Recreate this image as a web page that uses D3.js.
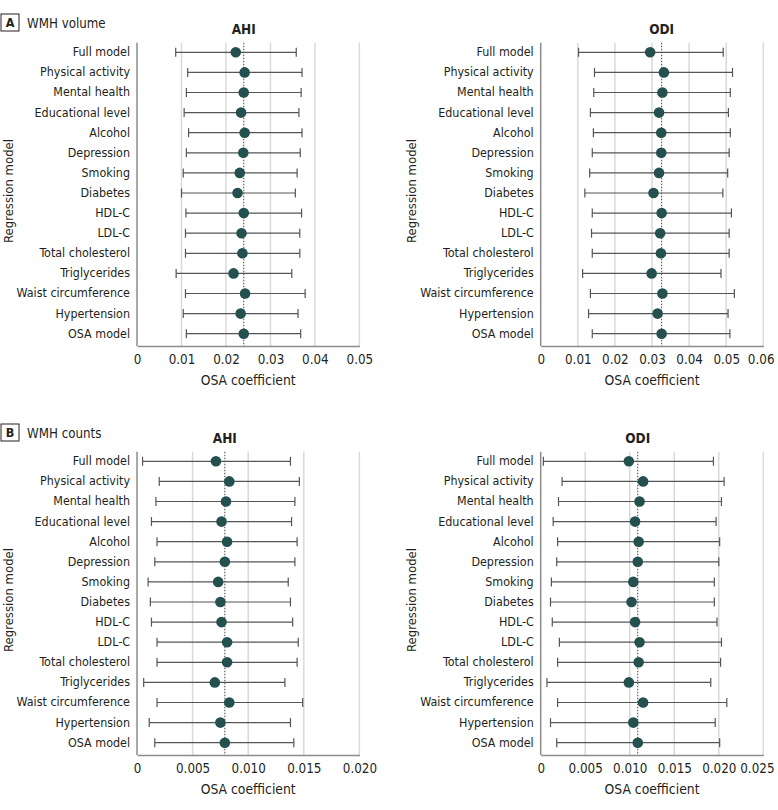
<!DOCTYPE html>
<html><head><meta charset="utf-8">
<script src="https://cdn.jsdelivr.net/npm/d3@7"></script>
<style>
body{margin:0;background:#fff;}
svg text{font-family:"DejaVu Sans Condensed","DejaVu Sans",sans-serif;fill:#231f20;}
</style></head><body>
<svg id="c" width="778" height="810"></svg>
<script>
const categories = ["Full model","Physical activity","Mental health","Educational level","Alcohol","Depression","Smoking","Diabetes","HDL-C","LDL-C","Total cholesterol","Triglycerides","Waist circumference","Hypertension","OSA model"];

// Panel A – WMH volume, AHI
const aAhiEst = [0.0222,0.0242,0.0240,0.0234,0.0242,0.0239,0.0231,0.0226,0.0240,0.0235,0.0237,0.0217,0.0243,0.0233,0.0240];
const aAhiLo  = [0.0087,0.0114,0.0111,0.0106,0.0116,0.0111,0.0104,0.0100,0.0110,0.0109,0.0109,0.0088,0.0109,0.0104,0.0111];
const aAhiHi  = [0.0358,0.0371,0.0369,0.0364,0.0371,0.0367,0.0360,0.0356,0.0370,0.0366,0.0366,0.0348,0.0378,0.0362,0.0368];
// Panel A – WMH volume, ODI
const aOdiEst = [0.0295,0.0332,0.0328,0.0319,0.0325,0.0325,0.0319,0.0304,0.0326,0.0322,0.0324,0.0299,0.0328,0.0315,0.0326];
const aOdiLo  = [0.0102,0.0145,0.0143,0.0134,0.0142,0.0139,0.0132,0.0119,0.0139,0.0137,0.0139,0.0113,0.0134,0.0129,0.0139];
const aOdiHi  = [0.0492,0.0517,0.0511,0.0506,0.0511,0.0508,0.0504,0.0491,0.0514,0.0508,0.0508,0.0486,0.0522,0.0505,0.0510];
// Panel B – WMH counts, AHI
const bAhiEst = [0.0071,0.0083,0.0080,0.0076,0.0081,0.0079,0.0073,0.0075,0.0076,0.0081,0.0081,0.0070,0.0083,0.0075,0.0079];
const bAhiLo  = [0.0005,0.0020,0.0017,0.0013,0.0018,0.0016,0.0010,0.0012,0.0013,0.0018,0.0018,0.0006,0.0018,0.0011,0.0016];
const bAhiHi  = [0.0138,0.0146,0.0142,0.0139,0.0144,0.0142,0.0136,0.0138,0.0140,0.0145,0.0144,0.0133,0.0149,0.0138,0.0141];
// Panel B – WMH counts, ODI
const bOdiEst = [0.0099,0.0115,0.0111,0.0106,0.0110,0.0109,0.0104,0.0102,0.0106,0.0111,0.0110,0.0099,0.0115,0.0104,0.0109];
const bOdiLo  = [0.0003,0.0024,0.0020,0.0014,0.0019,0.0018,0.0012,0.0011,0.0013,0.0021,0.0019,0.0007,0.0019,0.0011,0.0018];
const bOdiHi  = [0.0194,0.0206,0.0203,0.0197,0.0201,0.0200,0.0195,0.0195,0.0198,0.0203,0.0202,0.0191,0.0209,0.0196,0.0201];

const ticksA_AHI = [0,0.01,0.02,0.03,0.04,0.05];
const ticksA_ODI = [0,0.01,0.02,0.03,0.04,0.05,0.06];
const ticksB_AHI = [0,0.005,0.010,0.015,0.020];
const ticksB_ODI = [0,0.005,0.010,0.015,0.020,0.025];
const labelsA_AHI = ["0","0.01","0.02","0.03","0.04","0.05"];
const labelsA_ODI = ["0","0.01","0.02","0.03","0.04","0.05","0.06"];
const labelsB_AHI = ["0","0.005","0.010","0.015","0.020"];
const labelsB_ODI = ["0","0.005","0.010","0.015","0.020","0.025"];

const svg = d3.select("#c");
const DOT = "#24504f", BAR = "#555555", GRID = "#d9d9d9", AXIS = "#8c8c8c";
const RIGHT_LIMIT = 774;

function panel(o){
  const g = svg.append("g");
  const x = d3.scaleLinear().domain([0, o.ticks[o.ticks.length-1]]).range([o.x0, o.x1]);
  const y = d3.scaleBand().domain(categories).range([o.top, o.top + 20.1*15]).paddingInner(0).paddingOuter(0);
  const cy = c => y(c) + y.bandwidth()/2;
  const plotTop = o.top + 0.5, plotBot = o.top + 20.1*15 + 2.3;
  g.selectAll(".grid").data(o.ticks.slice(1)).join("line")
    .attr("x1", d=>x(d)).attr("x2", d=>x(d)).attr("y1", plotTop).attr("y2", plotBot)
    .attr("stroke", GRID).attr("stroke-width", 1.5);
  const ax = d3.axisBottom(x).tickValues(o.ticks).tickFormat((d,i)=>o.labels[i]).tickSize(0).tickPadding(9);
  const axg = g.append("g").attr("transform", `translate(0,${plotBot})`).call(ax);
  axg.attr("font-family", null);
  axg.select(".domain").attr("stroke", AXIS).attr("stroke-width", 1.5);
  axg.selectAll("text").attr("font-size", 13.3).attr("fill", "#231f20");
  // keep the last tick label inside the canvas
  axg.selectAll(".tick text").each(function(d){
    const w = this.getComputedTextLength();
    const over = x(d) + w/2 - RIGHT_LIMIT;
    if (over > 0) d3.select(this).attr("x", -over);
  });
  const ay = d3.axisLeft(y).tickSize(0).tickPadding(7);
  const ayg = g.append("g").attr("transform", `translate(${o.x0},0)`).call(ay);
  ayg.attr("font-family", null);
  ayg.select(".domain").remove();
  ayg.selectAll("text").attr("font-size", 12.4).attr("fill", "#231f20");
  g.append("line").attr("x1", o.x0).attr("x2", o.x0).attr("y1", plotTop).attr("y2", plotBot)
    .attr("stroke", AXIS).attr("stroke-width", 1.5);
  const ref = o.est[o.est.length-1];
  g.append("line").attr("x1", x(ref)).attr("x2", x(ref)).attr("y1", plotTop).attr("y2", plotBot)
    .attr("stroke", "#444").attr("stroke-width", 1).attr("stroke-dasharray", "1.5,1.5");
  const rows = categories.map((c,i)=>({c, e:o.est[i], lo:o.lo[i], hi:o.hi[i]}));
  const eb = g.selectAll(".eb").data(rows).join("g");
  eb.append("line").attr("x1", d=>x(d.lo)).attr("x2", d=>x(d.hi)).attr("y1", d=>cy(d.c)).attr("y2", d=>cy(d.c))
    .attr("stroke", BAR).attr("stroke-width", 1.2);
  eb.append("line").attr("x1", d=>x(d.lo)).attr("x2", d=>x(d.lo)).attr("y1", d=>cy(d.c)-4.5).attr("y2", d=>cy(d.c)+4.5)
    .attr("stroke", BAR).attr("stroke-width", 1.2);
  eb.append("line").attr("x1", d=>x(d.hi)).attr("x2", d=>x(d.hi)).attr("y1", d=>cy(d.c)-4.5).attr("y2", d=>cy(d.c)+4.5)
    .attr("stroke", BAR).attr("stroke-width", 1.2);
  eb.append("circle").attr("cx", d=>x(d.e)).attr("cy", d=>cy(d.c)).attr("r", 5.3).attr("fill", DOT);
  g.append("text").attr("x", x(ref)).attr("y", o.top - 8.5).attr("text-anchor","middle")
    .attr("font-size", 13.5).attr("font-weight","bold").text(o.title);
  g.append("text").attr("x", (o.x0+o.x1)/2).attr("y", plotBot + 39).attr("text-anchor","middle")
    .attr("font-size", 13.8).text("OSA coefficient");
  const ym = o.top + 20.1*7.5 - 2;
  g.append("text").attr("transform", `translate(${o.ytx},${ym}) rotate(-90)`).attr("text-anchor","middle")
    .attr("font-size", 13).text("Regression model");
}

function panelLabel(letter, text, y){
  svg.append("rect").attr("x", 1).attr("y", y).attr("width", 18).attr("height", 17)
    .attr("fill","none").attr("stroke","#231f20").attr("stroke-width",1);
  svg.append("text").attr("x", 10).attr("y", y+13).attr("text-anchor","middle").attr("font-size",12.5).attr("font-weight","bold").text(letter);
  svg.append("text").attr("x", 27).attr("y", y+13.5).attr("font-size",13.2).text(text);
}

panelLabel("A","WMH volume",14);
panelLabel("B","WMH counts",424);

panel({x0:137, x1:359.4, top:42.25, ticks:ticksA_AHI, labels:labelsA_AHI, est:aAhiEst, lo:aAhiLo, hi:aAhiHi, title:"AHI", ytx:12.5});
panel({x0:540.7, x1:763.3, top:42.25, ticks:ticksA_ODI, labels:labelsA_ODI, est:aOdiEst, lo:aOdiLo, hi:aOdiHi, title:"ODI", ytx:415.5});
panel({x0:137, x1:359.4, top:451.25, ticks:ticksB_AHI, labels:labelsB_AHI, est:bAhiEst, lo:bAhiLo, hi:bAhiHi, title:"AHI", ytx:12.5});
panel({x0:540.7, x1:763.3, top:451.25, ticks:ticksB_ODI, labels:labelsB_ODI, est:bOdiEst, lo:bOdiLo, hi:bOdiHi, title:"ODI", ytx:415.5});
</script></body></html>
